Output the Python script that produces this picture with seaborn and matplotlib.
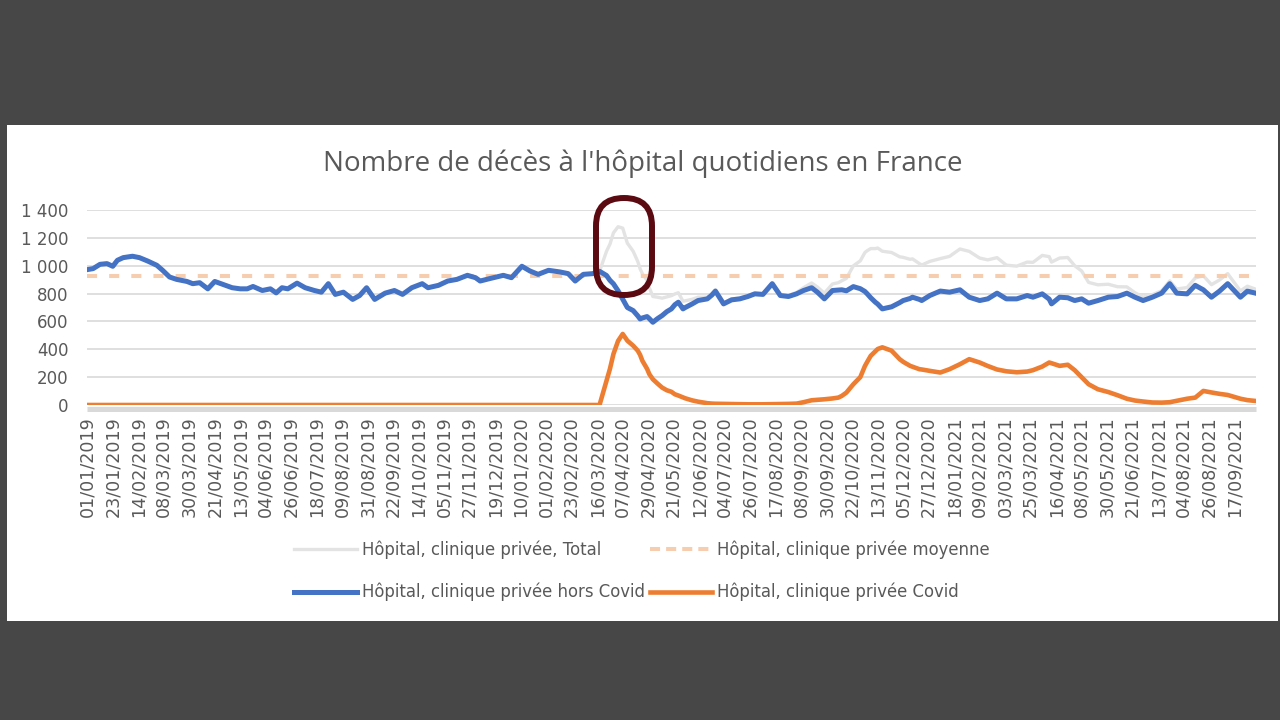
import numpy as np
import pandas as pd
import matplotlib
matplotlib.use("Agg")
import matplotlib.pyplot as plt
import seaborn as sns
from matplotlib.patches import Rectangle, FancyBboxPatch
from matplotlib.lines import Line2D
from matplotlib.transforms import IdentityTransform
from matplotlib.ticker import FuncFormatter, FixedLocator, FixedFormatter

# ---------------- data ----------------
title = "Nombre de décès à l'hôpital quotidiens en France"
label_total = "Hôpital, clinique privée, Total"
label_mean = "Hôpital, clinique privée moyenne"
label_hors = "Hôpital, clinique privée hors Covid"
label_covid = "Hôpital, clinique privée Covid"

start_date = "2019-01-01"
x_tick_step_days = 22
y_ticks = [0, 200, 400, 600, 800, 1000, 1200, 1400]

# day number since 01/01/2019
day_index = [
    0, 5, 11, 17, 22, 26, 31, 39, 45, 52,
    60, 65, 71, 77, 86, 91, 97, 104, 110, 117,
    125, 132, 138, 143, 151, 158, 163, 168, 173, 181,
    188, 196, 202, 208, 214, 221, 229, 235, 241, 248,
    257, 265, 272, 280, 289, 294, 303, 311, 319, 328,
    335, 339, 347, 359, 366, 375, 382, 389, 398, 408,
    415, 421, 428, 436, 442, 448, 451, 454, 458, 462,
    466, 471, 475, 477, 479, 483, 485, 488, 492, 496,
    500, 504, 507, 510, 514, 516, 522, 527, 535, 539,
    542, 549, 556, 563, 570, 576, 583, 591, 598, 605,
    612, 618, 625, 630, 636, 643, 648, 651, 655, 661,
    667, 671, 673, 676, 680, 682, 686, 694, 701, 704,
    710, 712, 718, 720, 727, 736, 744, 753, 761, 770,
    777, 785, 793, 802, 811, 816, 824, 830, 832, 839,
    846, 852, 858, 864, 872, 881, 889, 897, 904, 911,
    919, 927, 934, 940, 949, 956, 963, 970, 977, 984,
    989, 995, 1001, 1008,
]

hors_covid = [
    972, 979, 1010, 1015, 996, 1039, 1058, 1068, 1058, 1034,
    1003, 967, 919, 902, 887, 871, 878, 834, 887, 866,
    842, 834, 834, 851, 822, 834, 805, 842, 834, 875,
    842, 822, 810, 871, 794, 810, 758, 786, 842, 758,
    803, 822, 794, 842, 871, 842, 859, 890, 902, 931,
    914, 890, 907, 931, 914, 996, 962, 938, 967, 955,
    943, 890, 938, 943, 960, 930, 895, 870, 820, 760,
    700, 678, 640, 618, 625, 635, 620, 594, 620, 642,
    670, 690, 720, 738, 690, 700, 726, 750, 762, 790,
    818, 726, 755, 762, 779, 798, 794, 871, 786, 779,
    798, 822, 842, 810, 762, 822, 825, 827, 820, 850,
    835, 815, 798, 770, 738, 725, 690, 705, 735, 750,
    765, 774, 758, 750, 786, 818, 810, 827, 774, 750,
    762, 803, 762, 762, 786, 774, 798, 760, 726, 774,
    770, 750, 762, 731, 750, 774, 779, 803, 774, 750,
    774, 803, 871, 803, 798, 859, 827, 774, 818, 871,
    827, 774, 818, 803,
]

covid = [
    0, 0, 0, 0, 0, 0, 0, 0, 0, 0,
    0, 0, 0, 0, 0, 0, 0, 0, 0, 0,
    0, 0, 0, 0, 0, 0, 0, 0, 0, 0,
    0, 0, 0, 0, 0, 0, 0, 0, 0, 0,
    0, 0, 0, 0, 0, 0, 0, 0, 0, 0,
    0, 0, 0, 0, 0, 0, 0, 0, 0, 0,
    0, 0, 0, 0, 0, 173, 260, 366, 460, 510,
    462, 426, 390, 360, 317, 260, 221, 185, 154, 125,
    106, 95, 77, 68, 55, 48, 33, 24, 13, 10,
    9, 8, 7, 6, 5, 5, 5, 6, 7, 8,
    10, 20, 34, 37, 41, 47, 53, 65, 89, 149,
    200, 280, 310, 353, 385, 402, 414, 390, 329, 310,
    281, 275, 257, 255, 245, 233, 257, 293, 329, 305,
    280, 255, 242, 235, 240, 250, 276, 305, 300, 281,
    289, 250, 200, 149, 113, 93, 70, 45, 32, 25,
    18, 17, 20, 30, 45, 53, 101, 90, 80, 72,
    60, 45, 35, 29,
]

mean_value = 925

# ---------------- styling ----------------
TEXT = "#595959"
C_TOTAL = "#e3e3e3"
C_MEAN = "#f7cdb0"
C_HORS = "#4472c4"
C_COVID = "#ed7d31"
C_GRID = "#d9d9d9"

plt.rcParams["font.family"] = ["DejaVu Sans"]

dates = pd.to_datetime(start_date) + pd.to_timedelta(day_index, unit="D")
total = np.array(hors_covid) + np.array(covid)
df = pd.DataFrame({"date": dates, "total": total,
                   "hors": hors_covid, "covid": covid})

W, H = 1280, 720
fig = plt.figure(figsize=(W / 100, H / 100), dpi=100, facecolor="#474747")

# white chart panel
fig.patches.append(Rectangle((7 / W, 1 - 621 / H), (1278 - 7) / W, (621 - 125) / H,
                             transform=fig.transFigure, facecolor="white",
                             edgecolor="none", zorder=-1))

ax_left, ax_right, ax_top, ax_bot = 86.7, 1255.5, 210, 405
ax = fig.add_axes([ax_left / W, 1 - ax_bot / H, (ax_right - ax_left) / W,
                   (ax_bot - ax_top) / H])
ax.set_facecolor("none")

sns.lineplot(data=df, x="date", y="total", ax=ax, color=C_TOTAL, lw=2.4,
             zorder=2, legend=False)
ax.plot([dates[0], dates[-1]], [mean_value, mean_value], color=C_MEAN, lw=2.9,
        ls=(0, (2.5, 3)), zorder=3, solid_capstyle="butt")
sns.lineplot(data=df, x="date", y="hors", ax=ax, color=C_HORS, lw=3.6,
             zorder=4, legend=False)
sns.lineplot(data=df, x="date", y="covid", ax=ax, color=C_COVID, lw=3.3,
             zorder=5, legend=False)

ax.set_ylim(0, 1400)
ax.set_xlim(pd.to_datetime(start_date) - pd.Timedelta(days=0.5), dates[-1])
ax.set_yticks(y_ticks)
ax.yaxis.set_major_formatter(FuncFormatter(lambda v, p: f"{int(v):,}".replace(",", " ")))
tick_dates = pd.date_range(start_date, dates[-1], freq=f"{x_tick_step_days}D")
tick_nums = matplotlib.dates.date2num(tick_dates.to_pydatetime())
ax.xaxis.set_major_locator(FixedLocator(tick_nums))
ax.xaxis.set_major_formatter(FixedFormatter([d.strftime("%d/%m/%Y") for d in tick_dates]))

ax.set_xlabel("")
ax.set_ylabel("")
ax.yaxis.grid(True, color=C_GRID, lw=1.2)
ax.xaxis.grid(False)
ax.set_axisbelow(True)
for s in ["top", "right", "left"]:
    ax.spines[s].set_visible(False)
ax.spines["bottom"].set_color(C_GRID)
ax.spines["bottom"].set_linewidth(3.6)
ax.spines["bottom"].set_capstyle("butt")
ax.spines["bottom"].set_position(("outward", 3))
ax.spines["bottom"].set_zorder(1)

ax.tick_params(axis="y", length=0, pad=13, labelsize=12, labelcolor=TEXT)
ax.tick_params(axis="x", length=0, pad=5, labelsize=12.6, labelcolor=TEXT,
               labelrotation=90)

# title
fig.text(643 / W, 1 - 164 / H, title, ha="center", va="center",
         fontsize=20, color=TEXT, family="Open Sans")

# legend
handles = [
    Line2D([], [], color=C_TOTAL, lw=2.4),
    Line2D([], [], color=C_HORS, lw=3.6),
    Line2D([], [], color=C_MEAN, lw=2.9, ls=(0, (2.5, 1.5))),
    Line2D([], [], color=C_COVID, lw=3.3),
]
labels = [label_total, label_hors, label_mean, label_covid]
leg = fig.legend(handles, labels, loc="center", ncol=2,
                 bbox_to_anchor=(642 / W, 1 - 571 / H), frameon=False,
                 prop={"family": "DejaVu Sans", "size": 11.9}, labelcolor=TEXT,
                 handlelength=3.8, handletextpad=0.3, columnspacing=0.3,
                 labelspacing=1.45, borderpad=0)

# highlight annotation (rounded rectangle around the April 2020 peak)
box = FancyBboxPatch((596, H - 295), 56, 97,
                     boxstyle="round,pad=0,rounding_size=28",
                     transform=IdentityTransform(), facecolor="none",
                     edgecolor="#5b0a12", lw=4.3, zorder=10)
fig.add_artist(box)

fig.savefig("out.png", dpi=100, facecolor=fig.get_facecolor())
